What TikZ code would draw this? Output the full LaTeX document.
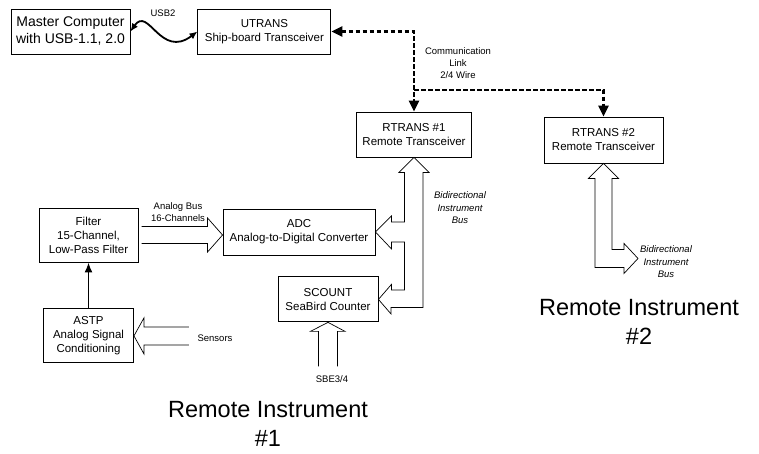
\documentclass[tikz,border=0pt]{standalone}
\usepackage{fontspec}
\setmainfont{Liberation Sans}
\usetikzlibrary{positioning,arrows.meta,calc}

\begin{document}
\begin{tikzpicture}[
  x=1pt, y=-1pt,
  box/.style={draw, line width=0.9pt, align=center, inner sep=0pt, font=\fontsize{11.5}{14}\selectfont},
  bus/.style={draw, line width=0.7pt},
  link/.style={line width=2.6pt, dash pattern=on 4.5pt off 2.5pt, >={Triangle[length=11pt, width=10pt]}},
  usb/.style={line width=1.8pt, >={Latex[length=8pt, width=7pt]}},
  arrow/.style={line width=1.6pt, -{Latex[length=10pt, width=8pt]}},
  lbl/.style={align=center, inner sep=0pt, font=\fontsize{9.5}{12}\selectfont},
  itlbl/.style={lbl, font=\fontsize{9.5}{12.5}\selectfont\itshape},
  title/.style={align=center, inner sep=0pt, font=\fontsize{23.5}{29}\selectfont},
]
  \useasboundingbox (0,0) rectangle (759,453);

  \node[box, minimum width=119pt, minimum height=45pt, font=\fontsize{14}{17}\selectfont] (master) at (70.5,31.5) {Master Computer\\with USB-1.1, 2.0};
  \node[box, minimum width=133pt, minimum height=45pt, right=67pt of master] (utrans) {UTRANS\\Ship-board Transceiver};
  \node[box, minimum width=115pt, minimum height=45pt] (rtrans1) at (414,134.5) {RTRANS \#1\\Remote Transceiver};
  \node[box, minimum width=119pt, minimum height=46pt] (rtrans2) at (603.5,140) {RTRANS \#2\\Remote Transceiver};
  \node[box, minimum width=99pt, minimum height=54pt] (filter) at (88.5,235) {Filter\\15-Channel,\\Low-Pass Filter};
  \node[box, minimum width=152pt, minimum height=46pt] (adc) at (299,232) {ADC\\Analog-to-Digital Converter};
  \node[box, minimum width=100pt, minimum height=45pt, below=21pt of adc, xshift=29pt] (scount) {SCOUNT\\SeaBird Counter};
  \node[box, minimum width=90pt, minimum height=54pt, below=46pt of filter] (astp) {ASTP\\Analog Signal\\Conditioning};

  \node[lbl] (usblbl) at (163,13) {USB2};
  \node[lbl] (commlbl) at (458,63) {Communication\\Link\\2/4 Wire};
  \node[lbl] (analoglbl) at (178,212) {Analog Bus\\16-Channels};
  \node[lbl] (sensorlbl) at (215,338) {Sensors};
  \node[lbl] (sbelbl) at (332,379) {SBE3/4};
  \node[itlbl] (bus1lbl) at (460,208) {Bidirectional\\Instrument\\Bus};
  \node[itlbl] (bus2lbl) at (666,262) {Bidirectional\\Instrument\\Bus};
  \node[title] (ri1) at (268,424) {Remote Instrument\\\#1};
  \node[title] (ri2) at (639,322) {Remote Instrument\\\#2};

  \draw[usb, <->] (master.east) .. controls +(18,-26) and +(-37,28) .. (utrans.west);
  \draw[link, <->] (utrans.east) -| (rtrans1.north);
  \coordinate (split) at (rtrans1.north |- 0,90);
  \draw[link, ->] (split) -| (rtrans2.north);
  \draw[arrow] (astp) -- (filter);

  \coordinate (adcin) at (adc.west |- 0,235);
  \draw[bus] ($(adcin)+(-81,-8.5)$) -- ++(66,0) -- ++(0,-8.5) -- (adcin) -- ++(-15,17) -- ++(0,-8.5) -- ++(-66,0);
  \draw[bus] ($(astp.east)+(55,-9)$) -- ++(-45,0) -- ++(0,-9) -- (astp.east) -- ++(10,18) -- ++(0,-9) -- ++(45,0);
  \draw[bus] ($(scount.south)+(-9.5,44)$) -- ++(0,-35) -- ++(-8,0) -- (scount.south) -- ++(17,9) -- ++(-7.5,0) -- ++(0,35);
  \draw[bus] (rtrans1.south) -- ++(15,15) -- ++(-6,0) -- ++(0,135) -- ++(-32,0) -- ++(0,6.5) -- (scount.east)
    -- ++(13,-15) -- ++(0,5.5) -- ++(13,0) -- ++(0,-48) -- ++(-13,0) -- ++(0,7) -- (adc.east)
    -- ++(16,-16) -- ++(0,6) -- ++(13,0) |- ($(rtrans1.south)+(-15,15)$) -- cycle;
  \draw[bus] (rtrans2.south) -- ++(15,15) -- ++(-6.5,0) -- ++(0,71) -- ++(12,0) -- ++(0,-6) -- ++(14,15)
    -- ++(-14,15) -- ++(0,-6) -- ++(-29,0) -- ++(0,-89) -- ++(-6.5,0) -- cycle;
\end{tikzpicture}
\end{document}
